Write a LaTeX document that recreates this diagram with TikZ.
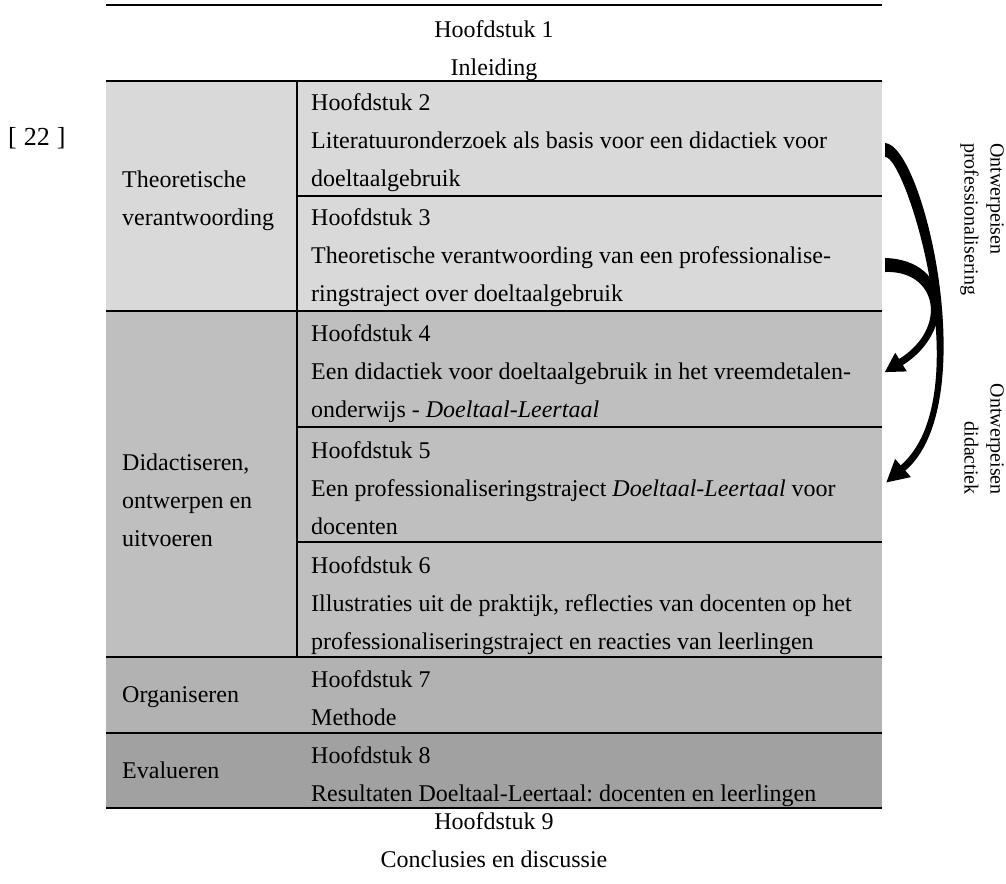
\documentclass[tikz,border=0pt]{standalone}
\usepackage{fontspec}
\setmainfont{Liberation Serif}
\frenchspacing
\definecolor{gA}{RGB}{217,217,217}
\definecolor{gB}{RGB}{191,191,191}
\definecolor{gC}{RGB}{178,178,178}
\definecolor{gD}{RGB}{161,161,161}
\newcommand{\fs}{\rule{0pt}{17pt}}
\tikzset{
  rule/.style={line width=1.6pt, black},
  txt/.style={inner sep=0pt, anchor=north west, align=left, font=\fontsize{24}{38}\selectfont},
  ctxt/.style={inner sep=0pt, anchor=north, align=center, font=\fontsize{24}{38}\selectfont},
  side/.style={inner sep=0pt, font=\fontsize{20}{26}\selectfont, rotate=-90},
  bigarrow/.style={fill=black, draw=none}
}
\begin{document}
\begin{tikzpicture}[x=1pt,y=-1pt]
\useasboundingbox (0,0) rectangle (1006,883);
% shading
\fill[gA] (106,81) rectangle (882,311);
\fill[gB] (106,311) rectangle (882,657);
\fill[gC] (106,657) rectangle (882,733);
\fill[gD] (106,733) rectangle (882,808);
% rules
\draw[rule] (106,5) -- (882,5);
\draw[rule] (106,81) -- (882,81);
\draw[rule] (297,196) -- (882,196);
\draw[rule] (106,311) -- (882,311);
\draw[rule] (297,427) -- (882,427);
\draw[rule] (297,542) -- (882,542);
\draw[rule] (106,657) -- (882,657);
\draw[rule] (106,733) -- (882,733);
\draw[rule] (106,808) -- (882,808);
\draw[rule] (297,81) -- (297,657);
% texts
\node[txt, font=\fontsize{26}{30}\selectfont] (page) at (8,127) {\fs[\hspace{7pt}22\hspace{7pt}]};
\node[ctxt] (h1) at (494,20) {\fs Hoofdstuk 1\\Inleiding};
\node[txt] (l1) at (122,170) {\fs Theoretische\\verantwoording};
\node[txt] (l2) at (122,453) {\fs Didactiseren,\\ontwerpen en\\uitvoeren};
\node[txt] (l3) at (122,685) {\fs Organiseren};
\node[txt] (l4) at (122,761) {\fs Evalueren};
\node[txt] (h2) at (311,93) {\fs Hoofdstuk 2\\Literatuuronderzoek als basis voor een didactiek voor\\doeltaalgebruik};
\node[txt] (h3) at (311,208) {\fs Hoofdstuk 3\\Theoretische verantwoording van een professionalise-\\ringstraject over doeltaalgebruik};
\node[txt] (h4) at (311,324) {\fs Hoofdstuk 4\\Een didactiek voor doeltaalgebruik in het vreemdetalen-\\onderwijs - \textit{Doeltaal-Leertaal}};
\node[txt] (h5) at (311,441) {\fs Hoofdstuk 5\\Een professionaliseringstraject \textit{Doeltaal-Leertaal} voor\\docenten};
\node[txt] (h6) at (311,556) {\fs Hoofdstuk 6\\Illustraties uit de praktijk, reflecties van docenten op het\\professionaliseringstraject en reacties van leerlingen};
\node[txt] (h7) at (311,670) {\fs Hoofdstuk 7\\Methode};
\node[txt] (h8) at (311,746) {\fs Hoofdstuk 8\\Resultaten Doeltaal-Leertaal: docenten en leerlingen};
\node[ctxt] (h9) at (494,812) {\fs Hoofdstuk 9\\Conclusies en discussie};
% side labels
\node[side, align=left, anchor=north west] (sp) at (1004,143) {Ontwerpeisen\\professionalisering};
\node[side, align=right, anchor=north east] (sd) at (1004,495) {Ontwerpeisen\\didactiek};
% arrows (tapered curved arrows)
\coordinate (aS) at (885,150);
\coordinate (aT) at (886.4,482.4);
\coordinate (bS) at (885,265);
\coordinate (bT) at (884.9,372.1);
\fill[bigarrow] (885,143) .. controls (924,145) and (983.5,404) .. (905.3,470.6)
  -- (910.9,477.1) -- (aT) -- (895.1,458.9) -- (900.7,465.4)
  .. controls (980.5,396) and (906,155) .. (885,157) -- cycle;
\fill[bigarrow] (885,258) .. controls (952.4,260) and (955.5,332.1) .. (902.9,365)
  -- (906.8,371.4) -- (bT) -- (895.2,352.7) -- (899.1,359)
  .. controls (948.5,328.3) and (937.6,270) .. (885,272) -- cycle;
\end{tikzpicture}
\end{document}
